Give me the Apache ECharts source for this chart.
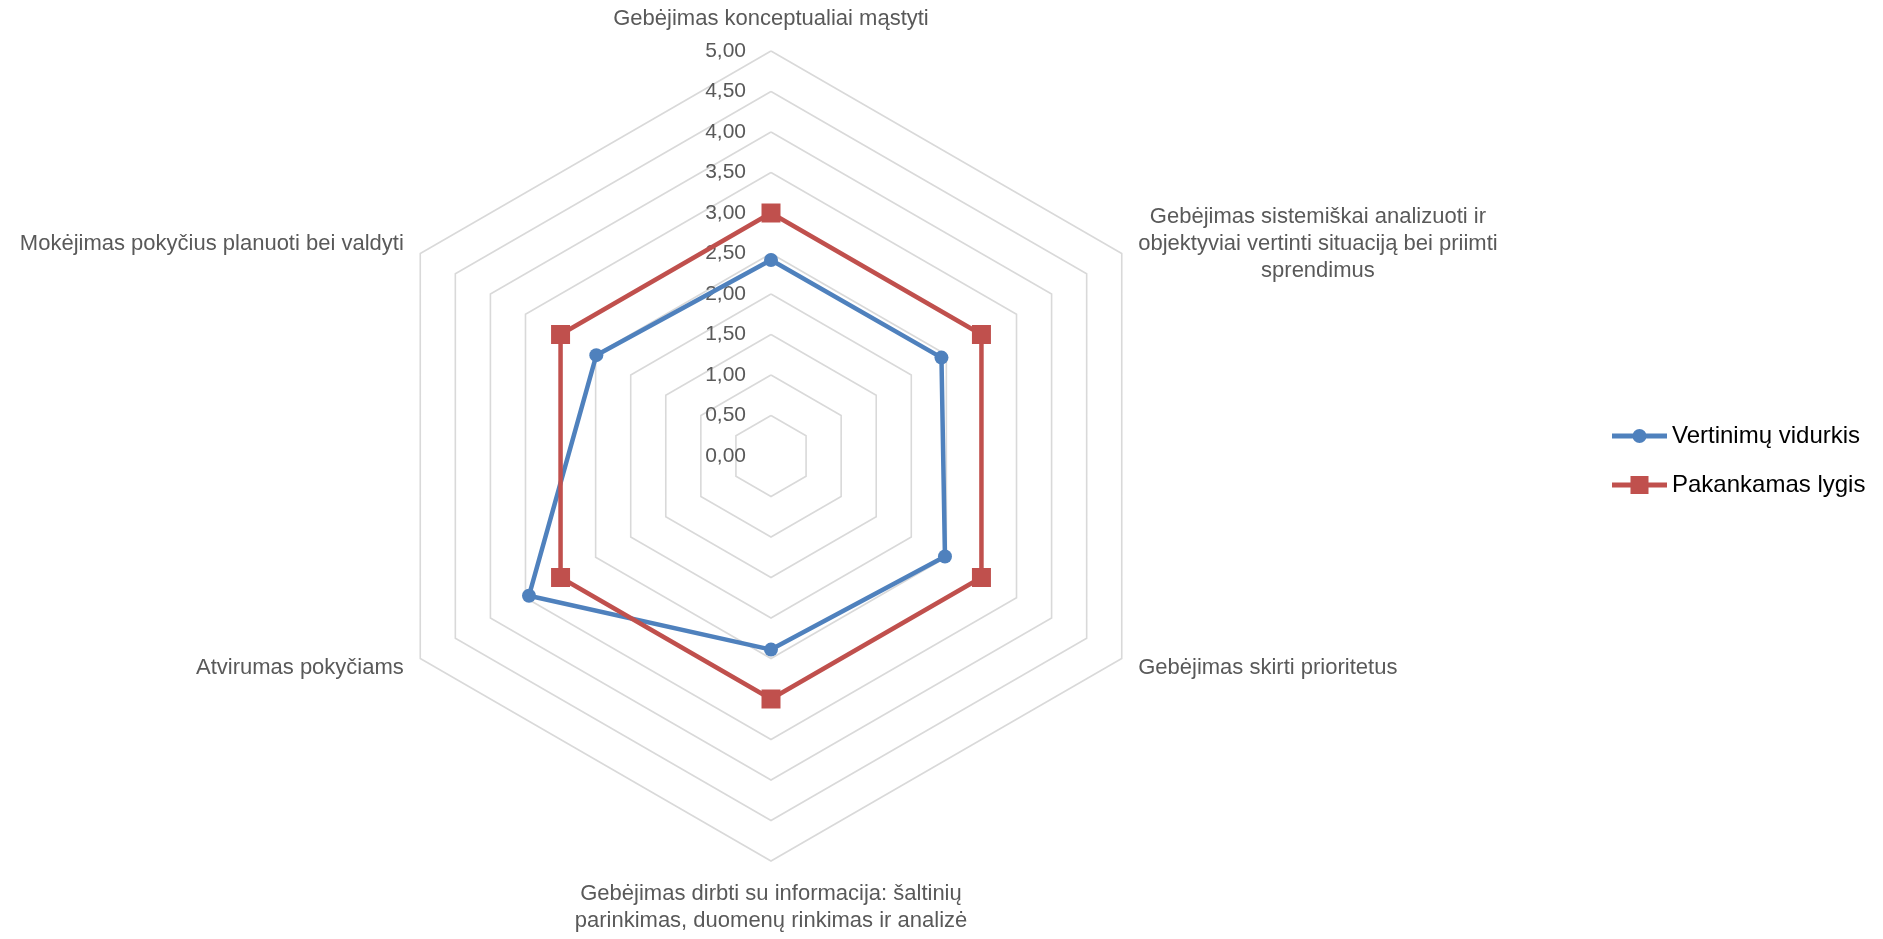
<!DOCTYPE html>
<html>
<head>
<meta charset="utf-8">
<script src="https://cdn.jsdelivr.net/npm/echarts@6/dist/echarts.min.js"></script>
<style>
html,body{margin:0;padding:0;background:#fff;}
#chart{width:1883px;height:939px;}
</style>
</head>
<body>
<div id="chart"></div>
<script>
// Categories in clockwise order starting at the top
const categories = [
  "Gebėjimas konceptualiai mąstyti",
  "Gebėjimas sistemiškai analizuoti ir\nobjektyviai vertinti situaciją bei priimti\nsprendimus",
  "Gebėjimas skirti prioritetus",
  "Gebėjimas dirbti su informacija: šaltinių\nparinkimas, duomenų rinkimas ir analizė",
  "Atvirumas pokyčiams",
  "Mokėjimas pokyčius planuoti bei valdyti"
];
const seriesNames = ["Vertinimų vidurkis", "Pakankamas lygis"];
const vertinimuVidurkis = [2.42, 2.43, 2.48, 2.39, 3.45, 2.49];
const pakankamasLygis = [3, 3, 3, 3, 3, 3];
const axisMax = 5;
const axisStep = 0.5;

// ECharts lays out radar indicators counter-clockwise; reorder to get clockwise placement
const order = [0, 5, 4, 3, 2, 1];
const reorder = arr => order.map(i => arr[i]);

const chart = echarts.init(document.getElementById('chart'));
const FONT = 'Liberation Sans';

const indicators = reorder(categories).map((name, idx) => ({
  name: name,
  min: 0,
  max: axisMax,
  axisLabel: idx === 0 ? {
    show: true,
    margin: 25,
    fontFamily: FONT,
    fontSize: 21,
    color: '#595959',
    showMinLabel: true,
    showMaxLabel: true,
    formatter: v => Number(v).toFixed(2).replace('.', ',')
  } : { show: false }
}));

const option = {
  backgroundColor: '#ffffff',
  animation: false,
  legend: {
    orient: 'vertical',
    left: 1607,
    top: 419,
    itemWidth: 55,
    itemHeight: 20,
    itemGap: 25,
    textStyle: { fontFamily: FONT, fontSize: 24, color: '#000000' },
    data: [
      { name: seriesNames[0], icon: 'path://M0,7.5 L55,7.5 L55,12.5 L0,12.5 Z M34.5,10 A7,7 0 1,1 20.5,10 A7,7 0 1,1 34.5,10 Z' },
      { name: seriesNames[1], icon: 'path://M0,7.5 L55,7.5 L55,12.5 L0,12.5 Z M18.5,1 L36.5,1 L36.5,19 L18.5,19 Z' }
    ]
  },
  radar: {
    center: [771, 456],
    radius: 405,
    startAngle: 90,
    splitNumber: axisMax / axisStep,
    shape: 'polygon',
    nameGap: 19,
    axisName: {
      fontFamily: FONT,
      fontSize: 22,
      color: '#595959',
      formatter: name => name.split('\n').map(l => '{c|' + l + '}').join('\n'),
      rich: {
        c: { align: 'center', fontFamily: FONT, fontSize: 22, color: '#595959', lineHeight: 27 }
      }
    },
    axisLine: { show: false },
    axisTick: { show: false },
    splitLine: { lineStyle: { color: '#d9d9d9', width: 1.6 } },
    splitArea: { show: false },
    indicator: indicators
  },
  series: [{
    type: 'radar',
    z: 2,
    data: [
      {
        name: seriesNames[0],
        value: reorder(vertinimuVidurkis),
        symbol: 'circle',
        symbolSize: 14,
        lineStyle: { color: '#4f81bd', width: 4.5 },
        itemStyle: { color: '#4f81bd' }
      },
      {
        name: seriesNames[1],
        value: reorder(pakankamasLygis),
        symbol: 'rect',
        symbolSize: 19,
        lineStyle: { color: '#c0504d', width: 4.5 },
        itemStyle: { color: '#c0504d' }
      }
    ]
  }]
};
chart.setOption(option);
</script>
</body>
</html>
